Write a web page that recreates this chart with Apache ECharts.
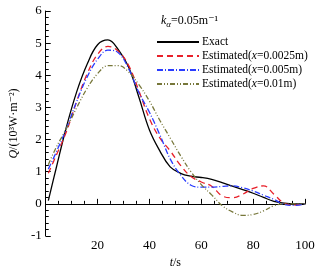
<!DOCTYPE html>
<html>
<head>
<meta charset="utf-8">
<script src="https://cdn.jsdelivr.net/npm/echarts/dist/echarts.min.js"></script>
<style>
  html, body { margin: 0; padding: 0; background: #fff; }
  #main { width: 328px; height: 274px; }
</style>
</head>
<body>
<div id="main"></div>
<script>
// time samples (s) shared by all curves
var tVals = [1, 4, 8, 12, 16, 20, 24, 28, 32, 36, 40, 44, 48, 52, 56, 60, 64, 68, 72, 76, 80, 84, 88, 92, 96, 100];

// heat flux Q (10^3 W/m^2)
var exactQ = [0.1, 1.1, 2.4, 3.5, 4.35, 4.95, 5.1, 4.8, 4.25, 3.3, 2.3, 1.65, 1.15, 0.95, 0.86, 0.82, 0.76, 0.66, 0.55, 0.44, 0.33, 0.2, 0.08, 0.02, 0, 0];
var est0025Q = [0.95, 1.5, 2.25, 3.2, 4.05, 4.65, 4.9, 4.75, 4.3, 3.5, 2.65, 2.05, 1.65, 1.2, 0.85, 0.68, 0.55, 0.25, 0.19, 0.3, 0.48, 0.56, 0.3, 0.02, -0.04, 0];
var est005Q = [1.08, 1.6, 2.35, 3.2, 3.95, 4.5, 4.78, 4.7, 4.2, 3.45, 2.85, 2.15, 1.4, 0.9, 0.58, 0.52, 0.52, 0.54, 0.56, 0.5, 0.4, 0.27, 0.14, -0.02, -0.05, 0];
var est001Q = [1.22, 1.75, 2.35, 3.0, 3.6, 4.05, 4.3, 4.3, 4.1, 3.7, 3.2, 2.6, 2.05, 1.5, 1.0, 0.6, 0.28, -0.05, -0.25, -0.36, -0.33, -0.22, -0.06, 0, 0, 0];

var seriesNames = ['Exact', 'Estimated(x=0.0025m)', 'Estimated(x=0.005m)', 'Estimated(x=0.01m)'];
var legendLabels = ['Exact', 'Estimated({i|x}=0.0025m)', 'Estimated({i|x}=0.005m)', 'Estimated({i|x}=0.01m)'];

var serif = '"Liberation Serif", "DejaVu Serif", serif';

function pairs(qs) {
  return tVals.map(function (t, i) { return [t, qs[i]]; });
}

function makeLine(name, qs, color, dash) {
  return {
    name: name,
    type: 'line',
    data: pairs(qs),
    smooth: 0.4,
    showSymbol: false,
    symbol: 'none',
    lineStyle: { color: color, width: 1.3, type: dash },
    itemStyle: { color: color }
  };
}

var voChart = echarts.init(document.getElementById('main'));

var option = {
  animation: false,
  backgroundColor: '#fff',
  grid: { left: 44, right: 23, top: 11, bottom: 27 },
  title: {
    left: 156,
    top: 7,
    text: '{k|k}{s|α}{n|=0.05m⁻¹}',
    textStyle: {
      fontWeight: 'normal',
      rich: {
        k: { fontFamily: serif, fontSize: 12, fontStyle: 'italic', fontWeight: 'normal', color: '#000' },
        s: { fontFamily: serif, fontSize: 9, fontStyle: 'italic', fontWeight: 'normal', color: '#000', padding: [8, 0, 0, 0] },
        n: { fontFamily: serif, fontSize: 12, fontWeight: 'normal', color: '#000' }
      }
    }
  },
  legend: {
    orient: 'vertical',
    left: 151,
    top: 31,
    itemWidth: 42,
    itemHeight: 12,
    itemGap: 2,
    data: seriesNames,
    itemStyle: { opacity: 0 },
    formatter: function (name) {
      return legendLabels[seriesNames.indexOf(name)];
    },
    textStyle: {
      fontFamily: serif,
      fontSize: 11.5,
      color: '#000',
      padding: [0, 0, 0, -2],
      rich: {
        i: { fontFamily: serif, fontSize: 11.5, fontStyle: 'italic', color: '#000' }
      }
    }
  },
  xAxis: {
    type: 'value',
    min: 0,
    max: 100,
    interval: 20,
    name: '{i|t}/s',
    nameLocation: 'middle',
    nameGap: 21,
    nameTextStyle: {
      fontFamily: serif, fontSize: 12, color: '#000',
      rich: { i: { fontFamily: serif, fontSize: 12, fontStyle: 'italic', color: '#000' } }
    },
    axisLine: { lineStyle: { color: '#000', width: 1 } },
    axisTick: { inside: true, length: 5, lineStyle: { color: '#000' } },
    minorTick: { show: true, splitNumber: 4, length: 3, lineStyle: { color: '#000' } },
    splitLine: { show: false },
    axisLabel: { showMinLabel: false, margin: 3, fontFamily: serif, fontSize: 13, color: '#000' }
  },
  yAxis: {
    type: 'value',
    min: -1,
    max: 6,
    interval: 1,
    name: '{i|Q}/(10³W·m⁻²)',
    nameLocation: 'middle',
    nameGap: 20,
    nameTextStyle: {
      fontFamily: serif, fontSize: 12, color: '#000',
      rich: { i: { fontFamily: serif, fontSize: 12, fontStyle: 'italic', color: '#000' } }
    },
    axisLine: { show: true, lineStyle: { color: '#000', width: 1 } },
    axisTick: { inside: true, length: 5, lineStyle: { color: '#000' } },
    minorTick: { show: true, splitNumber: 5, length: 3, lineStyle: { color: '#000' } },
    splitLine: { show: false },
    axisLabel: { margin: 4, fontFamily: serif, fontSize: 13, color: '#000' }
  },
  series: [
    makeLine(seriesNames[0], exactQ, '#000000', 'solid'),
    makeLine(seriesNames[1], est0025Q, '#e8202a', [6, 4]),
    makeLine(seriesNames[2], est005Q, '#2a3cff', [6, 2, 1, 2]),
    makeLine(seriesNames[3], est001Q, '#77773a', [5, 2, 1, 2, 1, 2])
  ]
};

voChart.setOption(option);
</script>
</body>
</html>
